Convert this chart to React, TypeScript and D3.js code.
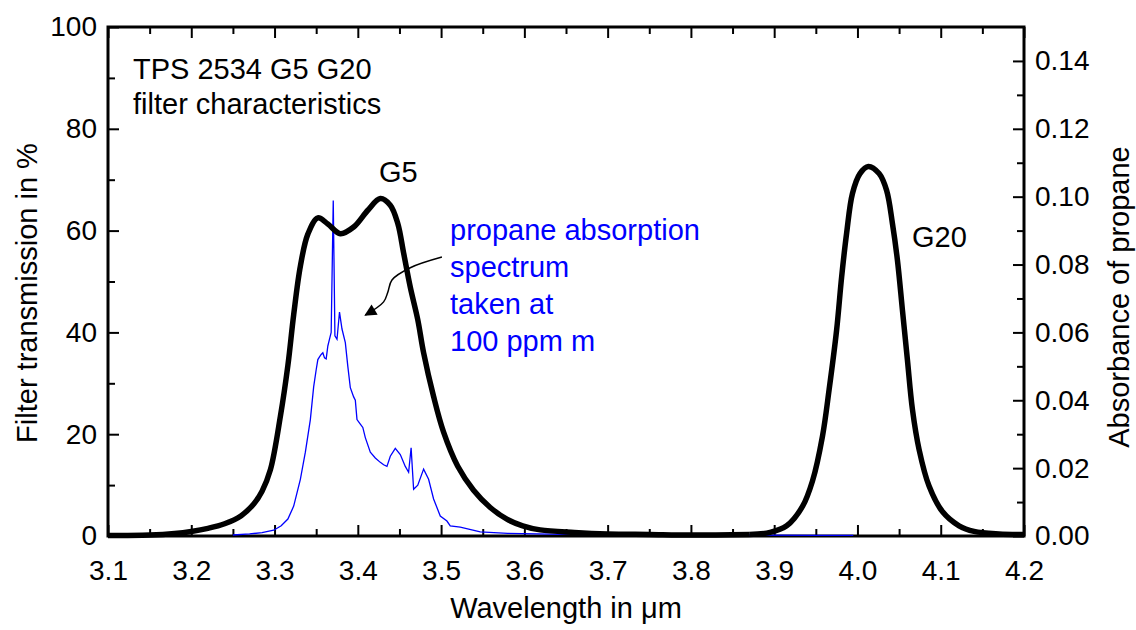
import React, { useEffect, useRef } from "react";
import * as d3 from "d3";

// filter G5 transmission, % (wavelength in µm)
const g5Wavelength = [
  3.1, 3.15, 3.18, 3.2, 3.22, 3.24, 3.26, 3.275, 3.285, 3.295, 3.307, 3.316,
  3.323, 3.331, 3.34, 3.352, 3.364, 3.379, 3.395, 3.412, 3.427, 3.439, 3.448,
  3.455, 3.463, 3.472, 3.479, 3.491, 3.503, 3.52, 3.539, 3.559, 3.579, 3.598,
  3.619, 3.66, 3.7, 3.75, 3.8, 3.87,
];
const g5Transmission = [
  0.1, 0.2, 0.5, 0.9, 1.5, 2.4, 4.0, 6.3, 8.8, 13.0, 23.5, 33.5, 43.5, 53.0,
  59.3, 62.5, 61.3, 59.4, 60.7, 64.0, 66.3, 65.0, 61.4, 55.6, 48.9, 42.5, 36.0,
  27.4, 20.4, 13.7, 9.0, 5.6, 3.3, 2.0, 1.2, 0.7, 0.4, 0.3, 0.2, 0.3,
];

// filter G20 transmission, %
const g20Wavelength = [
  3.87, 3.895, 3.915, 3.934, 3.946, 3.958, 3.966, 3.975, 3.981, 3.987, 3.994,
  4.003, 4.013, 4.026, 4.035, 4.042, 4.048, 4.054, 4.06, 4.066, 4.074, 4.086,
  4.102, 4.122, 4.14, 4.17, 4.2,
];
const g20Transmission = [
  0.3, 0.7, 2.0, 5.8, 10.8, 19.6, 28.8, 40.5, 50.9, 59.5, 67.3, 71.2, 72.6,
  71.2, 67.9, 61.4, 54.2, 44.4, 34.6, 24.9, 17.0, 9.8, 4.8, 2.0, 0.9, 0.4, 0.3,
];

// propane absorbance at 100 ppm m (right axis)
const propaneWavelength = [
  3.25, 3.27, 3.285, 3.299, 3.308, 3.316, 3.323, 3.331, 3.337, 3.343, 3.347,
  3.35, 3.352, 3.354, 3.356, 3.358, 3.36, 3.362, 3.364, 3.366, 3.368, 3.3705,
  3.3725, 3.375, 3.378, 3.381, 3.385, 3.388, 3.391, 3.395, 3.397, 3.399, 3.403,
  3.406, 3.409, 3.415, 3.421, 3.427, 3.431, 3.435, 3.439, 3.445, 3.451, 3.457,
  3.461, 3.464, 3.467, 3.472, 3.479, 3.485, 3.491, 3.499, 3.507, 3.511, 3.523,
  3.547, 3.58, 3.65, 3.75, 3.85, 3.95, 3.995,
];
const propaneAbsorbance = [
  0.0003, 0.0006, 0.001, 0.0017, 0.003, 0.005, 0.0088, 0.0167, 0.0247, 0.0343,
  0.044, 0.049, 0.052, 0.0528, 0.0535, 0.054, 0.0525, 0.0522, 0.056, 0.058,
  0.06, 0.0989, 0.059, 0.058, 0.066, 0.061, 0.057, 0.05, 0.0437, 0.041, 0.04,
  0.0343, 0.033, 0.032, 0.029, 0.0247, 0.023, 0.0217, 0.021, 0.0205, 0.0235,
  0.0258, 0.024, 0.0205, 0.0188, 0.026, 0.0138, 0.015, 0.0197, 0.0167, 0.0109,
  0.0059, 0.0044, 0.003, 0.0026, 0.0012, 0.0008, 0.0005, 0.0004, 0.0003,
  0.0002, 0.0002,
];

const xTicks = [3.1, 3.2, 3.3, 3.4, 3.5, 3.6, 3.7, 3.8, 3.9, 4.0, 4.1, 4.2];
const leftTicks = [0, 20, 40, 60, 80, 100];
const rightTicks = [0, 0.02, 0.04, 0.06, 0.08, 0.1, 0.12, 0.14];

// arrow from the label to the spectrum, in data units of the left axis
const arrowX = [3.501, 3.463, 3.441, 3.436, 3.431, 3.409];
const arrowY = [54.8, 52.7, 50.3, 47.9, 46.0, 43.4];

const titleLines = ["TPS 2534 G5 G20", "filter characteristics"];
const propaneLines = ["propane absorption", "spectrum", "taken at", "100 ppm m"];

const font = "'Liberation Sans', Arial, sans-serif";

function App() {
  const ref = useRef(null);

  useEffect(() => {
    const svg = d3.select(ref.current);
    svg.selectAll("*").remove();

    const margin = { top: 27, right: 112, bottom: 94, left: 108 };
    const width = 1136 - margin.left - margin.right;
    const height = 630 - margin.top - margin.bottom;

    const x = d3.scaleLinear().domain([3.1, 4.2]).range([0, width]);
    const y = d3.scaleLinear().domain([0, 100]).range([height, 0]);
    const y2 = d3.scaleLinear().domain([0, 0.15]).range([height, 0]);

    const defs = svg.append("defs");
    defs
      .append("marker")
      .attr("id", "head")
      .attr("viewBox", "0 0 10 10")
      .attr("refX", 9)
      .attr("refY", 5)
      .attr("markerWidth", 17)
      .attr("markerHeight", 12)
      .attr("markerUnits", "userSpaceOnUse")
      .attr("orient", "auto")
      .append("path")
      .attr("d", "M0,0 L10,5 L0,10 Z")
      .attr("fill", "#000");

    const g = svg
      .append("g")
      .attr("transform", "translate(" + margin.left + "," + margin.top + ")");

    const styleAxis = (sel, size) => {
      sel.select(".domain").remove();
      sel.selectAll("line").attr("stroke", "#000").attr("stroke-width", 2);
      sel
        .selectAll("text")
        .attr("fill", "#000")
        .style("font-family", font)
        .style("font-size", size + "px");
    };

    const minorX = d3.range(3.15, 4.2, 0.1);
    const minorY = d3.range(10, 100, 20);
    const minorY2 = d3.range(0.01, 0.15, 0.02);

    // bottom
    g.append("g")
      .attr("transform", "translate(0," + height + ")")
      .call(d3.axisBottom(x).tickValues(xTicks).tickFormat(d3.format(".1f")).tickSize(-11).tickPadding(24))
      .call((s) => styleAxis(s, 28));
    g.append("g")
      .attr("transform", "translate(0," + height + ")")
      .call(d3.axisBottom(x).tickValues(minorX).tickFormat(() => "").tickSize(-7))
      .call((s) => styleAxis(s, 28));
    // top
    g.append("g")
      .call(d3.axisTop(x).tickValues(xTicks).tickFormat(() => "").tickSize(-11))
      .call((s) => styleAxis(s, 28));
    g.append("g")
      .call(d3.axisTop(x).tickValues(minorX).tickFormat(() => "").tickSize(-7))
      .call((s) => styleAxis(s, 28));
    // left
    g.append("g")
      .call(d3.axisLeft(y).tickValues(leftTicks).tickFormat(d3.format("d")).tickSize(-11).tickPadding(11))
      .call((s) => styleAxis(s, 28));
    g.append("g")
      .call(d3.axisLeft(y).tickValues(minorY).tickFormat(() => "").tickSize(-7))
      .call((s) => styleAxis(s, 28));
    // right
    g.append("g")
      .attr("transform", "translate(" + width + ",0)")
      .call(d3.axisRight(y2).tickValues(rightTicks).tickFormat(d3.format(".2f")).tickSize(-11).tickPadding(11))
      .call((s) => styleAxis(s, 28));
    g.append("g")
      .attr("transform", "translate(" + width + ",0)")
      .call(d3.axisRight(y2).tickValues(minorY2).tickFormat(() => "").tickSize(-7))
      .call((s) => styleAxis(s, 28));

    // frame
    g.append("rect")
      .attr("width", width)
      .attr("height", height)
      .attr("fill", "none")
      .attr("stroke", "#000")
      .attr("stroke-width", 3);

    // propane spectrum
    const spec = d3
      .line()
      .x((d, i) => x(propaneWavelength[i]))
      .y((d) => y2(d));
    g.append("path")
      .attr("d", spec(propaneAbsorbance))
      .attr("fill", "none")
      .attr("stroke", "#0000ff")
      .attr("stroke-width", 1.3);

    // filter curves
    const filt = (xs) =>
      d3
        .line()
        .curve(d3.curveCatmullRom)
        .x((d, i) => x(xs[i]))
        .y((d) => y(d));
    g.append("path")
      .attr("d", filt(g5Wavelength)(g5Transmission))
      .attr("fill", "none")
      .attr("stroke", "#000")
      .attr("stroke-width", 5.5)
      .attr("stroke-linejoin", "round");
    g.append("path")
      .attr("d", filt(g20Wavelength)(g20Transmission))
      .attr("fill", "none")
      .attr("stroke", "#000")
      .attr("stroke-width", 5.5)
      .attr("stroke-linejoin", "round");

    // arrow
    const arrow = d3
      .line()
      .curve(d3.curveCatmullRom)
      .x((d, i) => x(arrowX[i]))
      .y((d) => y(d));
    g.append("path")
      .attr("d", arrow(arrowY))
      .attr("fill", "none")
      .attr("stroke", "#000")
      .attr("stroke-width", 1.5)
      .attr("marker-end", "url(#head)");

    // texts
    const txt = (t, px, py, color) =>
      svg
        .append("text")
        .attr("x", px)
        .attr("y", py)
        .attr("fill", color || "#000")
        .style("font-family", font)
        .style("font-size", "29px")
        .text(t);

    titleLines.forEach((t, i) => txt(t, 133, 79 + i * 35));
    txt("G5", 379, 182);
    txt("G20", 912, 247);
    propaneLines.forEach((t, i) => txt(t, 450, 240 + i * 37, "#0000ff"));

    txt("Wavelength in \u03bcm", margin.left + width / 2, 618).attr("text-anchor", "middle");
    svg
      .append("text")
      .attr("transform", "translate(37,293) rotate(-90)")
      .attr("text-anchor", "middle")
      .style("font-family", font)
      .style("font-size", "29px")
      .text("Filter transmission in %");
    svg
      .append("text")
      .attr("transform", "translate(1129,297) rotate(-90)")
      .attr("text-anchor", "middle")
      .style("font-family", font)
      .style("font-size", "29px")
      .text("Absorbance of propane");
  }, []);

  return (
    <svg
      ref={ref}
      width={1136}
      height={630}
      style={{ position: "absolute", left: 0, top: 0, background: "#fff" }}
    ></svg>
  );
}

export default App;
